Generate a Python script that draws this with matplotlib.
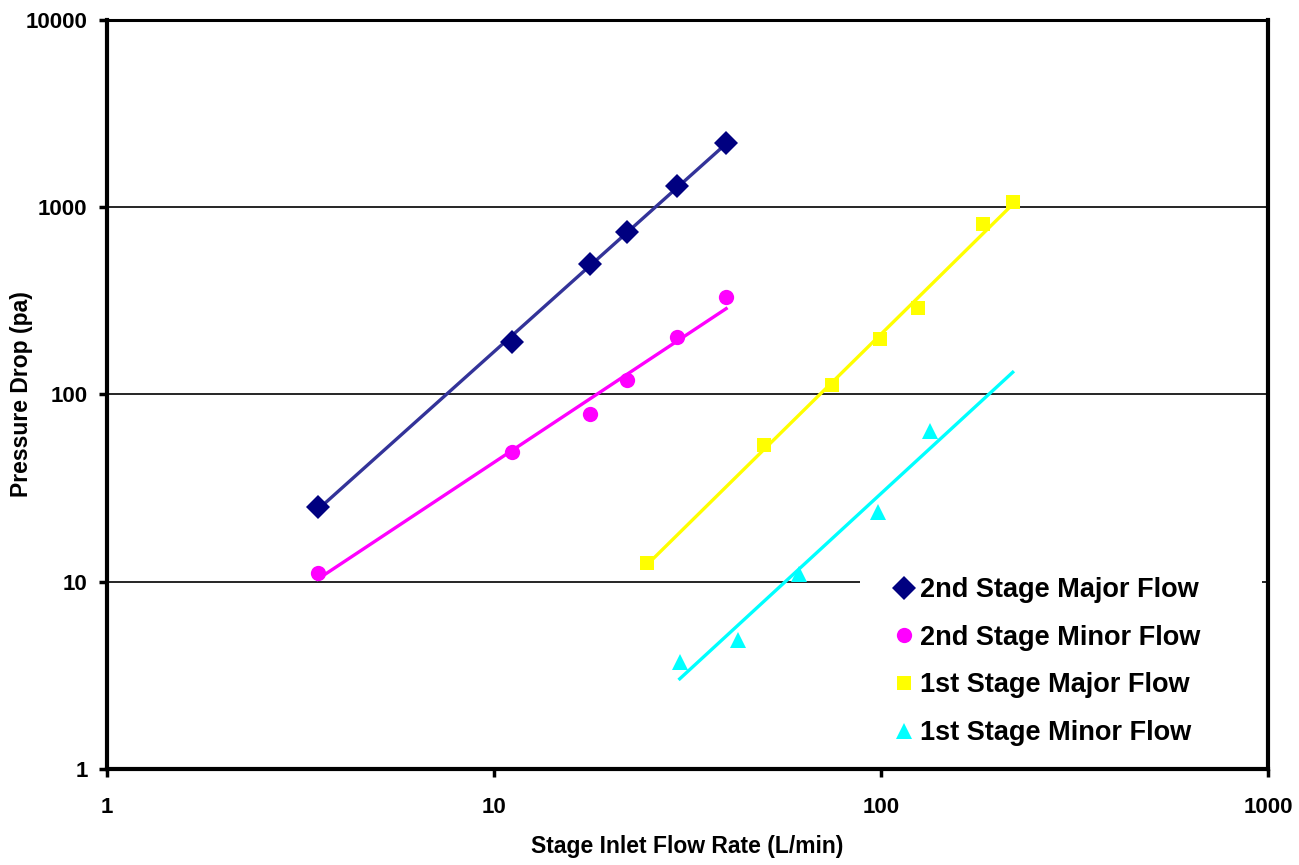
# Pressure drop vs stage inlet flow rate, log-log with power trendlines

import matplotlib.pyplot as plt
import matplotlib.patches as patches
import numpy as np

plt.rcParams['font.family'] = ['Liberation Sans', 'DejaVu Sans']
plt.rcParams['font.weight'] = 'bold'

names = ["2nd Stage Major Flow", "2nd Stage Minor Flow", "1st Stage Major Flow", "1st Stage Minor Flow"]

x_2maj = [3.5, 11.1, 17.7, 22.1, 29.7, 39.8]
y_2maj = [25, 190, 496, 735, 1295, 2200]

x_2min = [3.5, 11.1, 17.7, 22.1, 29.7, 39.8]
y_2min = [11.2, 49, 79, 119, 204, 330]

x_1maj = [24.9, 49.9, 74.7, 99.5, 125, 183.5, 219]
y_1maj = [12.6, 54, 113, 197, 288, 811, 1064]

x_1min = [30.2, 42.7, 61.4, 98.2, 134]
y_1min = [3.73, 4.9, 11.0, 23.7, 64.2]

# x range covered by each trendline
trend_x = [(3.5, 39.8), (3.5, 39.8), (24.9, 219), (30.2, 219)]

xs = [x_2maj, x_2min, x_1maj, x_1min]
ys = [y_2maj, y_2min, y_1maj, y_1min]
markers = ['D', 'o', 's', '^']
msizes = [12, 11, 10, 11]
mcolors = ['#000080', '#FF00FF', '#FFFF00', '#00FFFF']
lcolors = ['#333399', '#FF00FF', '#FFFF00', '#00FFFF']

fig = plt.figure(figsize=(12.99, 8.65), dpi=100)
ax = fig.add_axes([0.0824, 0.111, 0.8937, 0.8659])

for i in range(4):
	# power law fit in log space
	k, b = np.polyfit(np.log10(xs[i]), np.log10(ys[i]), 1)
	tx = np.logspace(np.log10(trend_x[i][0]), np.log10(trend_x[i][1]), 50)
	ax.plot(tx, 10**b * tx**k, color=lcolors[i], linewidth=2.4, zorder=2)
	ax.plot(xs[i], ys[i], linestyle='none', marker=markers[i], markersize=msizes[i],
		color=mcolors[i], markeredgewidth=0, label=names[i], zorder=3)

ax.set_xscale('log')
ax.set_yscale('log')
ax.set_xlim(1, 1000)
ax.set_ylim(1, 10000)
ax.set_xticks([1, 10, 100, 1000])
ax.set_xticklabels(['1', '10', '100', '1000'])
ax.set_yticks([1, 10, 100, 1000, 10000])
ax.set_yticklabels(['1', '10', '100', '1000', '10000'])
ax.minorticks_off()
ax.tick_params(axis='both', which='major', direction='out', length=6, width=2.5,
	labelsize=16)
ax.tick_params(axis='x', pad=14)
ax.tick_params(axis='y', pad=8)
ax.tick_params(top=False, right=False)

ax.yaxis.grid(True, color='black', linewidth=1.2)
ax.set_axisbelow(True)

for s in ['left', 'bottom', 'right']:
	ax.spines[s].set_linewidth(3)
ax.spines['top'].set_linewidth(2.2)

ax.set_xlabel("Stage Inlet Flow Rate (L/min)", fontsize=16.5, fontweight='bold')
ax.set_ylabel("Pressure Drop (pa)", fontsize=16.5, fontweight='bold')
ax.xaxis.set_label_coords(0.5, -0.104)
ax.yaxis.set_label_coords(-0.074, 0.5)
ax.xaxis.label.set_va('center')
ax.yaxis.label.set_va('center')

# white legend area hides the gridline behind it
ax.add_patch(patches.Rectangle((0.6489, 0.0254), 0.3459, 0.2457, transform=ax.transAxes,
	facecolor='white', edgecolor='none', zorder=1))

leg = ax.legend(loc='upper left', bbox_to_anchor=(0.677, 0.2563), frameon=False,
	prop={'size': 19.5, 'weight': 'bold'},
	handletextpad=0.19, handlelength=0.8, labelspacing=0.8, borderpad=0, borderaxespad=0)
leg.set_zorder(5)

fig.savefig("out.png", dpi=100)
